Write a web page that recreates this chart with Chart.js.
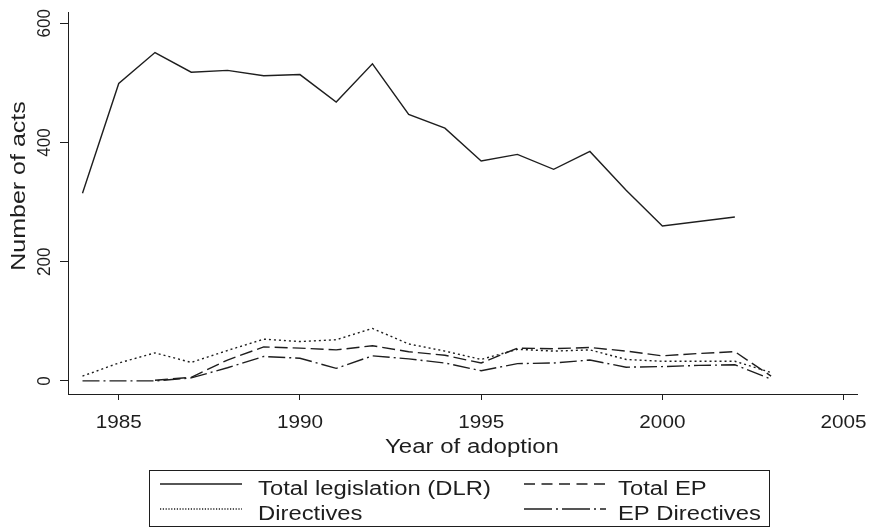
<!DOCTYPE html>
<html>
<head>
<meta charset="utf-8">
<script src="https://cdn.jsdelivr.net/npm/chart.js@4.4.1/dist/chart.umd.min.js"></script>
<style>
  html, body { margin: 0; padding: 0; background: #fff; }
  #wrap { width: 870px; height: 528px; }
</style>
</head>
<body>
<div id="wrap"><canvas id="actsChart" width="870" height="528"></canvas></div>
<script>
// values (acts adopted per year)
const years = [1984, 1985, 1986, 1987, 1988, 1989, 1990, 1991, 1992, 1993,
               1994, 1995, 1996, 1997, 1998, 1999, 2000, 2001, 2002, 2003];
const totalDLR = [315, 499, 551, 518, 521, 512, 514, 468, 532, 447,
                  424, 369, 380, 355, 385, 320, 260, null, 275, null];
const totalEP = [null, null, 1, 6, 35, 57, 55, 52, 59, 49,
                 43, 30, 55, 54, 56, 50, 42, 46, 49, 8];
const directives = [8, 30, 47, 31, 51, 70, 66, 69, 88, 62,
                    50, 36, 53, 50, 52, 36, 33, 33, 33, 14];
const epDirectives = [0, 0, 0, 5, 22, 41, 38, 21, 42, 37,
                      30, 17, 29, 30, 35, 23, 24, 26, 27, 3];

const xTicks = [1985, 1990, 1995, 2000, 2005];
const yTicks = [0, 200, 400, 600];
const seriesNames = ["Total legislation (DLR)", "Total EP", "Directives", "EP Directives"];

const ink = "#1e1e1e";
const fam = "'Liberation Sans', Arial, sans-serif";

function toPoints(values) {
  return years.map((yr, i) => ({ x: yr, y: values[i] }));
}

function lineSet(label, values, dash) {
  return {
    label: label,
    data: toPoints(values),
    borderColor: ink,
    borderWidth: 1.4,
    borderDash: dash,
    pointRadius: 0,
    tension: 0,
    spanGaps: true,
    fill: false,
  };
}

// the figure's type is a wide grotesque; stretch Liberation Sans sideways to fit it
function putText(c, str, x, y, align, stretch, angle) {
  c.save();
  c.translate(x, y);
  if (angle) c.rotate(angle);
  c.scale(stretch, 1);
  c.textAlign = align;
  c.fillText(str, 0, 0);
  c.restore();
}

// axis labels, titles and the boxed two-column legend
const textLayer = {
  id: "textLayer",
  afterDraw(chart) {
    const c = chart.ctx;
    const xs = chart.scales.x;
    const ys = chart.scales.y;
    c.save();
    c.fillStyle = ink;
    c.strokeStyle = ink;
    c.textBaseline = "alphabetic";

    c.font = "19px " + fam;
    xTicks.forEach((t) => putText(c, String(t), xs.getPixelForValue(t), 428, "center", 1.09));
    yTicks.forEach((t) => putText(c, String(t), 50, ys.getPixelForValue(t), "center", 0.9, -Math.PI / 2));

    c.font = "20px " + fam;
    putText(c, "Year of adoption", 472, 453, "center", 1.2);
    putText(c, "Number of acts", 25, 186, "center", 1.25, -Math.PI / 2);

    // legend
    c.lineWidth = 1;
    c.strokeRect(149.5, 470.5, 620, 56);
    const cells = [
      { ds: 0, sx: 160, tx: 258, y: 484, dash: [] },
      { ds: 1, sx: 524, tx: 618, y: 484, dash: [11, 6.5] },
      { ds: 2, sx: 160, tx: 258, y: 509, dash: [1.2, 1.6] },
      { ds: 3, sx: 524, tx: 618, y: 509, dash: [28, 4, 2, 4] },
    ];
    cells.forEach((cell) => {
      c.save();
      c.lineWidth = 1.3;
      c.setLineDash(cell.dash);
      c.beginPath();
      c.moveTo(cell.sx, cell.y);
      c.lineTo(cell.sx + 82, cell.y);
      c.stroke();
      c.restore();
      putText(c, chart.data.datasets[cell.ds].label, cell.tx, cell.y + 11, "left", 1.19);
    });
    c.restore();
  },
};

const ctx = document.getElementById("actsChart").getContext("2d");
const actsChart = new Chart(ctx, {
  type: "line",
  data: {
    datasets: [
      lineSet(seriesNames[0], totalDLR, []),
      lineSet(seriesNames[1], totalEP, [13, 5]),
      lineSet(seriesNames[2], directives, [2, 3]),
      lineSet(seriesNames[3], epDirectives, [17, 4, 2, 4]),
    ],
  },
  options: {
    animation: false,
    responsive: false,
    layout: { padding: { top: 12, right: 13, left: 0, bottom: 0 } },
    scales: {
      x: {
        type: "linear",
        min: 1983.6,
        max: 2005.37,
        afterBuildTicks: (s) => { s.ticks = xTicks.map((v) => ({ value: v })); },
        afterFit: (s) => { s.height = 134; },
        ticks: { display: false },
        grid: { drawOnChartArea: false, drawTicks: true, tickLength: 6, color: ink },
        border: { display: true, color: ink, width: 1 },
      },
      y: {
        type: "linear",
        min: -22,
        max: 619,
        afterBuildTicks: (s) => { s.ticks = yTicks.map((v) => ({ value: v })); },
        afterFit: (s) => { s.width = 68; },
        ticks: { display: false },
        grid: { drawOnChartArea: false, drawTicks: true, tickLength: 8, color: ink },
        border: { display: true, color: ink, width: 1 },
      },
    },
    plugins: {
      legend: { display: false },
      tooltip: { enabled: false },
    },
  },
  plugins: [textLayer],
});
</script>
</body>
</html>
